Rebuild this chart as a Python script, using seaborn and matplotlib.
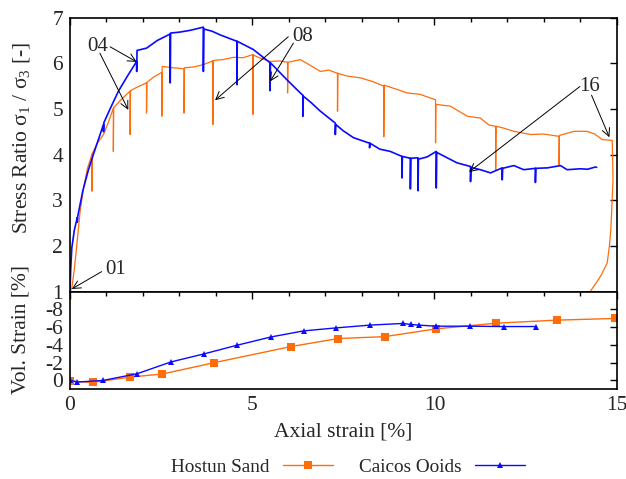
import matplotlib
matplotlib.use("Agg")
import matplotlib.pyplot as plt
from matplotlib.ticker import MultipleLocator
from matplotlib.lines import Line2D
import seaborn as sns
import pandas as pd

# ---------------- data ----------------
# Stress ratio, Hostun Sand (drops at shutter/scan steps included)
hostun_ax = [0.0, 0.05, 0.12, 0.18, 0.27, 0.37, 0.48,
             0.60, 0.60, 0.61, 0.75, 0.92, 1.05,
             1.19, 1.19, 1.20, 1.40,
             1.65, 1.65, 1.66, 1.85,
             2.10, 2.10, 2.11, 2.30,
             2.52, 2.52, 2.53, 2.84,
             3.13, 3.13, 3.14, 3.40, 3.66,
             3.92, 3.92, 3.93, 4.20, 4.49, 4.75,
             5.02, 5.02, 5.03, 5.25, 5.49, 5.75,
             5.97, 5.97, 5.98, 6.32, 6.60, 6.87, 7.10,
             7.34, 7.34, 7.35, 7.60, 7.97, 8.30,
             8.61, 8.61, 8.62, 9.00, 9.25, 9.60,
             10.03, 10.03, 10.04, 10.44, 10.90, 11.26, 11.49,
             11.68, 11.68, 11.69, 11.90, 12.18, 12.64, 13.00,
             13.42, 13.42, 13.43, 13.83, 14.19, 14.40, 14.60, 14.88,
             14.90, 14.84, 14.80, 14.74, 14.56, 14.40, 14.27]
hostun_sr = [1.00, 1.08, 1.50, 1.96, 2.70, 3.27, 3.70,
             4.00, 3.20, 4.02, 4.25, 4.44, 4.70,
             5.02, 4.07, 5.03, 5.20,
             5.39, 4.44, 5.40, 5.48,
             5.57, 4.91, 5.58, 5.70,
             5.80, 4.84, 5.93, 5.90,
             5.88, 4.91, 5.90, 5.92, 5.97,
             6.05, 4.66, 6.06, 6.08, 6.13, 6.12,
             6.19, 4.88, 6.18, 6.10, 6.04, 6.05,
             6.02, 5.35, 6.02, 6.08, 5.95, 5.82, 5.85,
             5.78, 4.95, 5.78, 5.72, 5.68, 5.60,
             5.50, 4.39, 5.52, 5.42, 5.35, 5.32,
             5.20, 4.26, 5.10, 5.06, 4.84, 4.80, 4.65,
             4.62, 3.67, 4.62, 4.58, 4.51, 4.44, 4.45,
             4.40, 3.78, 4.42, 4.51, 4.51, 4.45, 4.33, 4.31,
             3.45, 2.36, 2.00, 1.63, 1.34, 1.15, 1.00]

# Stress ratio, Caicos Ooids
caicos_ax = [0.0, 0.02, 0.05, 0.12, 0.20, 0.20, 0.21, 0.35, 0.50, 0.64, 0.80,
             0.92, 0.92, 0.93, 1.10, 1.33, 1.60,
             1.83, 1.83, 1.84, 2.10, 2.40,
             2.75, 2.75, 2.76, 3.00, 3.30,
             3.66, 3.66, 3.67, 3.90, 4.12,
             4.58, 4.58, 4.59, 5.03,
             5.49, 5.49, 5.50, 5.95, 6.32,
             6.39, 6.39, 6.40, 6.60, 6.87,
             7.28, 7.28, 7.29, 7.50, 7.78,
             8.22, 8.22, 8.23, 8.50, 8.79,
             9.11, 9.11, 9.12, 9.34, 9.34, 9.35,
             9.55, 9.55, 9.56, 9.80,
             10.05, 10.05, 10.06, 10.30, 10.62,
             10.99, 10.99, 11.00, 11.26, 11.54,
             11.86, 11.86, 11.87, 12.18, 12.45,
             12.77, 12.77, 12.78, 13.10, 13.46, 13.64,
             14.00, 14.20, 14.42, 14.45]
caicos_sr = [1.00, 1.50, 1.96, 2.35, 2.62, 2.52, 2.64, 3.20, 3.65, 4.00, 4.38,
             4.66, 4.50, 4.70, 5.00, 5.39, 5.75,
             6.04, 5.82, 6.28, 6.33, 6.50,
             6.64, 5.57, 6.66, 6.68, 6.72,
             6.79, 5.82, 6.75, 6.70, 6.62,
             6.48, 5.53, 6.48, 6.30,
             6.01, 5.40, 6.01, 5.64, 5.35,
             5.30, 4.84, 5.28, 5.15, 4.95,
             4.69, 4.44, 4.66, 4.52, 4.37,
             4.25, 4.15, 4.25, 4.12, 4.07,
             3.96, 3.49, 3.96, 3.92, 3.25, 3.92,
             3.93, 3.21, 3.90, 3.95,
             4.07, 3.27, 4.05, 3.95, 3.82,
             3.74, 3.41, 3.72, 3.67, 3.60,
             3.71, 3.45, 3.70, 3.76, 3.67,
             3.70, 3.39, 3.70, 3.71, 3.76, 3.67,
             3.69, 3.68, 3.73, 3.72]

# Volumetric strain
hostun_vol_ax = [0.01, 0.62, 1.66, 2.53, 3.96, 6.07, 7.36, 8.63, 10.05, 11.70, 13.35, 14.95]
hostun_vol = [0.08, 0.23, -0.38, -0.72, -2.00, -3.82, -4.72, -4.93, -5.81, -6.45, -6.79, -6.98]
caicos_vol_ax = [0.01, 0.19, 0.91, 1.84, 2.77, 3.67, 4.58, 5.52, 6.41, 7.31, 8.23,
                 9.14, 9.36, 9.57, 10.05, 10.98, 11.90, 12.80]
caicos_vol = [-0.02, 0.19, 0.00, -0.75, -2.08, -2.98, -3.96, -4.90, -5.58, -5.92, -6.23,
              -6.42, -6.30, -6.23, -6.11, -6.11, -6.07, -6.07]

labels = ["Hostun Sand", "Caicos Ooids"]
orange = "#ff6c0a"
blue = "#0a0aff"

# ---------------- style ----------------
sns.set_theme(style="white")
plt.rcParams["font.family"] = ["Liberation Serif", "DejaVu Serif"]
plt.rcParams["mathtext.fontset"] = "custom"
plt.rcParams["mathtext.rm"] = "Liberation Serif"
plt.rcParams["mathtext.it"] = "Liberation Serif:italic"
plt.rcParams["axes.unicode_minus"] = False
FS = 15.5

fig = plt.figure(figsize=(6.26, 4.79), dpi=100)
ax1 = fig.add_axes([0.1118, 0.3910, 0.8733, 0.5724])
ax2 = fig.add_axes([0.1118, 0.1873, 0.8733, 0.2038])

# top panel
sns.lineplot(x=hostun_ax, y=hostun_sr, sort=False, estimator=None, ax=ax1,
             color=orange, lw=0.9)
sns.lineplot(x=caicos_ax, y=caicos_sr, sort=False, estimator=None, ax=ax1,
             color=blue, lw=1.2)
ax1.set_xlim(0, 15)
ax1.set_ylim(1, 7)
ax1.set_yticks(range(1, 8))
ax1.xaxis.set_major_locator(MultipleLocator(5))
ax1.xaxis.set_minor_locator(MultipleLocator(1))
ax1.set_xticklabels([])

# annotations
arrow = dict(arrowstyle="->", color="black", lw=0.7, shrinkA=0, shrinkB=0,
             mutation_scale=14)
AFS = 15
ax1.annotate("", xy=(0.05, 1.06), xytext=(0.87, 1.44), arrowprops=arrow)
ax1.text(1.25, 1.48, "01", fontsize=AFS, ha="center", va="center")
ax1.text(0.76, 6.36, "04", fontsize=AFS, ha="center", va="center")
ax1.annotate("", xy=(1.83, 6.03), xytext=(1.10, 6.36), arrowprops=arrow)
ax1.annotate("", xy=(1.60, 4.98), xytext=(0.82, 6.22), arrowprops=arrow)
ax1.text(6.37, 6.58, "08", fontsize=AFS, ha="center", va="center")
ax1.annotate("", xy=(3.98, 5.19), xytext=(5.99, 6.58), arrowprops=arrow)
ax1.annotate("", xy=(5.49, 5.60), xytext=(6.13, 6.44), arrowprops=arrow)
ax1.text(14.26, 5.49, "16", fontsize=AFS, ha="center", va="center")
ax1.annotate("", xy=(10.95, 3.62), xytext=(13.99, 5.49), arrowprops=arrow)
ax1.annotate("", xy=(14.80, 4.38), xytext=(14.31, 5.30), arrowprops=arrow)

# bottom panel
sns.lineplot(x=hostun_vol_ax, y=hostun_vol, sort=False, estimator=None, ax=ax2,
             color=orange, lw=1.0, marker="s", markersize=6, markeredgewidth=0)
sns.lineplot(x=caicos_vol_ax, y=caicos_vol, sort=False, estimator=None, ax=ax2,
             color=blue, lw=1.0, marker="^", markersize=4.5, markeredgewidth=0)
ax2.set_xlim(0, 15)
ax2.set_ylim(1, -10)
ax2.set_yticks([0, -2, -4, -6, -8])
ax2.xaxis.set_major_locator(MultipleLocator(5))
ax2.xaxis.set_minor_locator(MultipleLocator(1))
ax2.set_xlabel("Axial strain [%]", fontsize=FS, labelpad=5)

for ax in (ax1, ax2):
    ax.set_ylabel("")
    ax.tick_params(which="both", direction="in", top=True, right=True,
                   labelsize=FS, color="black")
    ax.tick_params(which="major", length=5, width=1.0, pad=5)
    ax.tick_params(which="minor", length=3, width=1.0)
    for s in ax.spines.values():
        s.set_color("black")
        s.set_linewidth(1.2)

fig.text(0.034, 1 - 138 / 479, "Stress Ratio σ$_{1}$ / σ$_{3}$ [-]", rotation=90,
         ha="center", va="center", fontsize=FS)
fig.text(0.034, 1 - 330 / 479, "Vol. Strain [%]", rotation=90,
         ha="center", va="center", fontsize=FS)

handles = [Line2D([], [], color=orange, lw=1.0, marker="s", markersize=6, markeredgewidth=0),
           Line2D([], [], color=blue, lw=1.0, marker="^", markersize=4.5, markeredgewidth=0)]
fig.legend(handles, labels, loc="center", bbox_to_anchor=(0.556, 1 - 467 / 479),
           ncol=2, frameon=False, markerfirst=False, fontsize=13.8,
           handlelength=2.6, handletextpad=0.7, columnspacing=1.4)

fig.savefig("out.png", dpi=100)
